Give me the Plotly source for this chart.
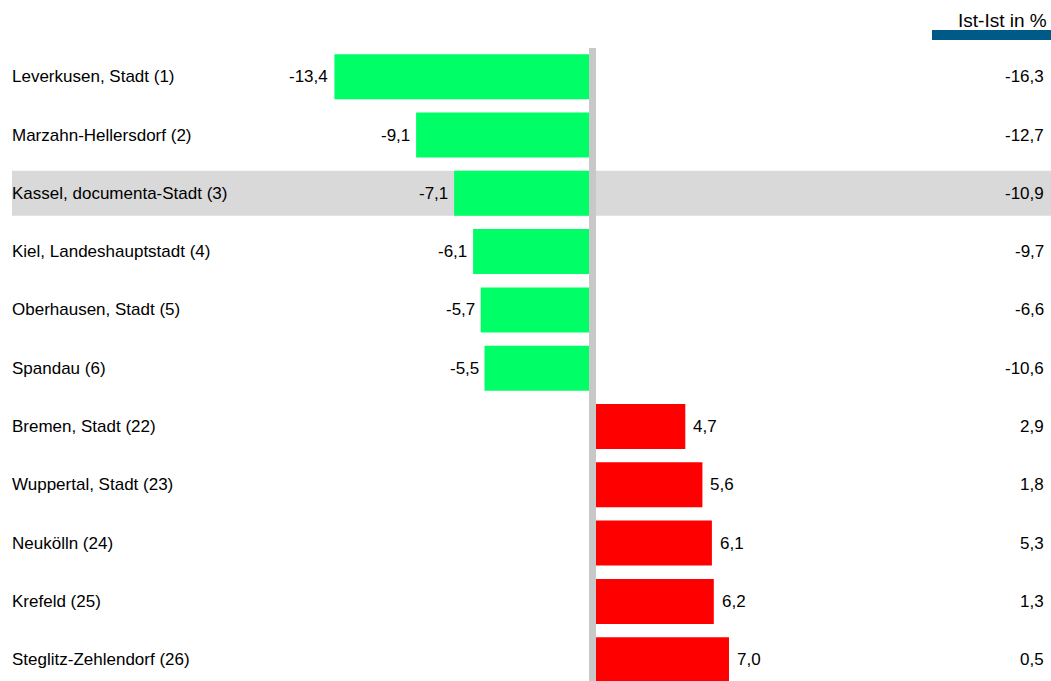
import plotly.graph_objects as go

# Districts and their deviations
regions = [
    "Leverkusen, Stadt (1)",
    "Marzahn-Hellersdorf (2)",
    "Kassel, documenta-Stadt (3)",
    "Kiel, Landeshauptstadt (4)",
    "Oberhausen, Stadt (5)",
    "Spandau (6)",
    "Bremen, Stadt (22)",
    "Wuppertal, Stadt (23)",
    "Neukölln (24)",
    "Krefeld (25)",
    "Steglitz-Zehlendorf (26)",
]
values = [-13.4, -9.1, -7.1, -6.1, -5.7, -5.5, 4.7, 5.6, 6.1, 6.2, 7.0]
ist_ist = [-16.3, -12.7, -10.9, -9.7, -6.6, -10.6, 2.9, 1.8, 5.3, 1.3, 0.5]
highlight = "Kassel, documenta-Stadt (3)"
header = "Ist-Ist in %"

W, H = 1051, 681
PX_PER_UNIT = 19.0
ZERO_NEG = 589   # pixel where negative bars end
ZERO_POS = 596   # pixel where positive bars start
ROW0 = 76.7
ROW_STEP = 58.3
BAR_W = 0.772

FONT = "Liberation Sans, Arial, sans-serif"
FS = 17


def fmt(v):
    return f"{v:.1f}".replace(".", ",")


idx = list(range(len(regions)))
neg_i = [i for i in idx if values[i] < 0]
pos_i = [i for i in idx if values[i] >= 0]

fig = go.Figure()
fig.add_trace(go.Bar(
    x=[values[i] for i in neg_i], y=neg_i, orientation="h",
    marker=dict(color="#00ff66", line=dict(width=0)), width=BAR_W,
    xaxis="x", yaxis="y", hoverinfo="skip",
))
fig.add_trace(go.Bar(
    x=[values[i] for i in pos_i], y=pos_i, orientation="h",
    marker=dict(color="#ff0000", line=dict(width=0)), width=BAR_W,
    xaxis="x2", yaxis="y", hoverinfo="skip",
))

annotations = []
for i in idx:
    # region name
    annotations.append(dict(
        x=10 / W, xref="paper", y=i, yref="y", text=regions[i],
        xanchor="left", yanchor="middle", showarrow=False,
        font=dict(family=FONT, size=FS, color="#000000"),
    ))
    # bar value
    v = values[i]
    annotations.append(dict(
        x=v, xref="x" if v < 0 else "x2", y=i, yref="y", text=fmt(v),
        xanchor="right" if v < 0 else "left", yanchor="middle",
        xshift=-4 if v < 0 else 6, showarrow=False,
        font=dict(family=FONT, size=FS, color="#000000"),
    ))
    # Ist-Ist column
    annotations.append(dict(
        x=1046 / W, xref="paper", y=i, yref="y", text=fmt(ist_ist[i]),
        xanchor="right", yanchor="middle", showarrow=False,
        font=dict(family=FONT, size=FS, color="#000000"),
    ))

annotations.append(dict(
    x=1049 / W, xref="paper", y=1 - 20 / H, yref="paper", text=header,
    xanchor="right", yanchor="middle", showarrow=False,
    font=dict(family=FONT, size=19, color="#000000"),
))

hi = regions.index(highlight)
shapes = [
    # highlighted row band
    dict(type="rect", xref="paper", yref="y", x0=12 / W, x1=1,
         y0=hi - BAR_W / 2, y1=hi + BAR_W / 2,
         fillcolor="#d9d9d9", line=dict(width=0), layer="below"),
    # zero line
    dict(type="rect", xref="x", yref="paper", x0=0, x1=(ZERO_POS - ZERO_NEG) / PX_PER_UNIT,
         y0=0, y1=1 - 48 / H, fillcolor="#c8c8c8", line=dict(width=0), layer="above"),
    # header underline
    dict(type="rect", xref="paper", yref="paper", x0=932 / W, x1=1,
         y0=1 - 40 / H, y1=1 - 30 / H, fillcolor="#005a87", line=dict(width=0)),
]

fig.update_layout(
    width=W, height=H,
    margin=dict(l=0, r=0, t=0, b=0),
    paper_bgcolor="white", plot_bgcolor="rgba(0,0,0,0)",
    showlegend=False, barmode="overlay",
    xaxis=dict(range=[-ZERO_NEG / PX_PER_UNIT, (W - ZERO_NEG) / PX_PER_UNIT],
               domain=[0, 1], visible=False, fixedrange=True),
    xaxis2=dict(range=[-ZERO_POS / PX_PER_UNIT, (W - ZERO_POS) / PX_PER_UNIT],
                domain=[0, 1], overlaying="x", visible=False, fixedrange=True),
    yaxis=dict(range=[(H - ROW0) / ROW_STEP, -ROW0 / ROW_STEP],
               visible=False, fixedrange=True),
    annotations=annotations, shapes=shapes,
)

fig.write_html("out.html", config={"displayModeBar": False})
